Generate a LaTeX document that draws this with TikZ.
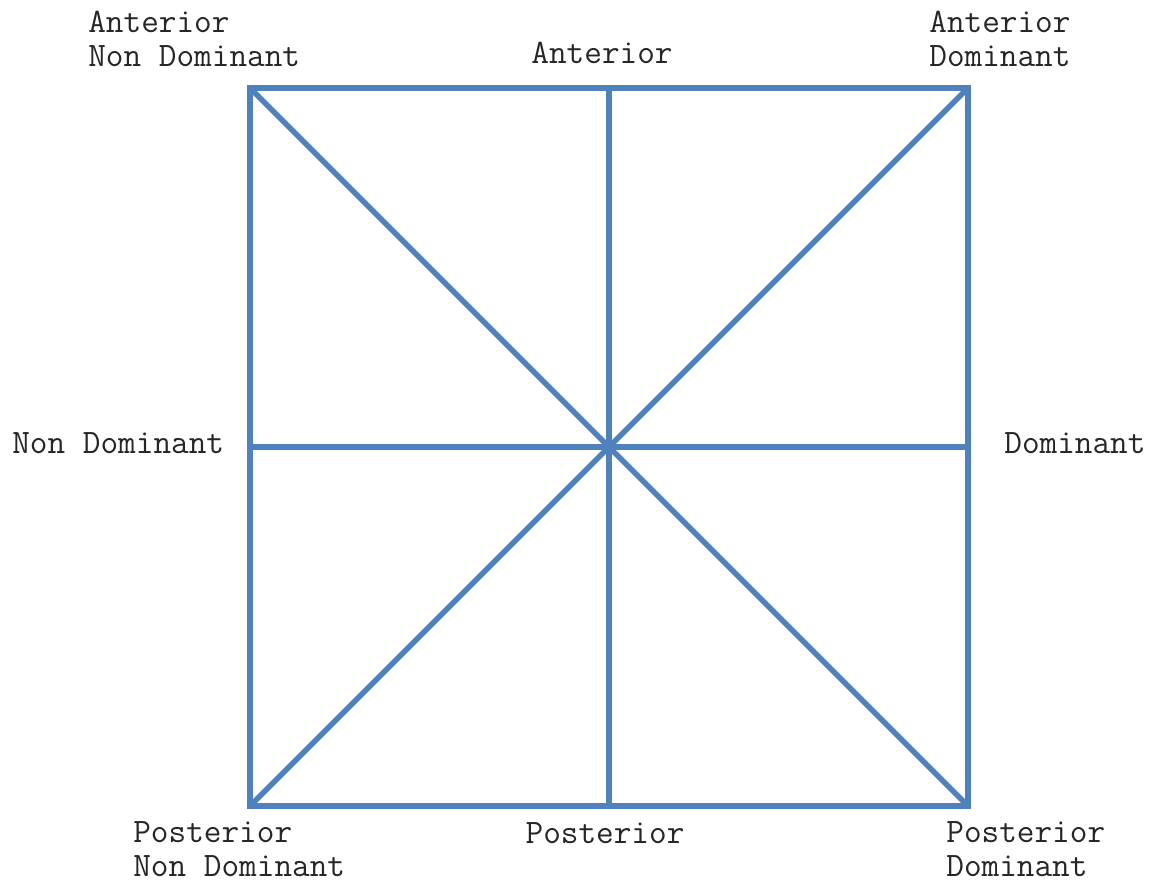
\documentclass[tikz,border=0pt]{standalone}
\usetikzlibrary{calc}

\definecolor{axisblue}{HTML}{4F81BD}

\begin{document}
\begin{tikzpicture}[
  x=0.02cm, y=-0.02cm,
  font=\ttfamily\fontsize{19.5}{19}\selectfont,
  axis/.style={draw=axisblue, line width=3.2pt},
  lbl/.style={inner sep=0pt, align=left, text=black!85},
]
  \useasboundingbox (0,0) rectangle (1152,879);

  % corners and mid points of the square
  \coordinate (nw) at (250,88);
  \coordinate (ne) at (968,88);
  \coordinate (sw) at (250,806);
  \coordinate (se) at (968,806);
  \coordinate (c)  at ($(nw)!0.5!(se)$);
  \coordinate (n)  at ($(nw)!0.5!(ne)$);
  \coordinate (s)  at ($(sw)!0.5!(se)$);
  \coordinate (w)  at ($(nw)!0.5!(sw)$);
  \coordinate (e)  at ($(ne)!0.5!(se)$);

  \draw[axis, line join=miter] (nw) rectangle (se);
  \draw[axis] (nw) -- (se);
  \draw[axis] (sw) -- (ne);
  \draw[axis] (n) -- (s);
  \draw[axis] (w) -- (e);

  \node[lbl, anchor=west] (antnd) at (88,39) {Anterior\\Non Dominant};
  \node[lbl] (ant) at (602,53) {Anterior};
  \node[lbl, anchor=west] (antd) at (929,39) {Anterior\\Dominant};
  \node[lbl, anchor=west] (nd) at (12,443) {Non Dominant};
  \node[lbl, anchor=west] (dom) at (1004,443) {Dominant};
  \node[lbl, anchor=west] (postnd) at (133,849) {Posterior\\Non Dominant};
  \node[lbl] (post) at (605,833) {Posterior};
  \node[lbl, anchor=west] (postd) at (946,849) {Posterior\\Dominant};
\end{tikzpicture}
\end{document}
